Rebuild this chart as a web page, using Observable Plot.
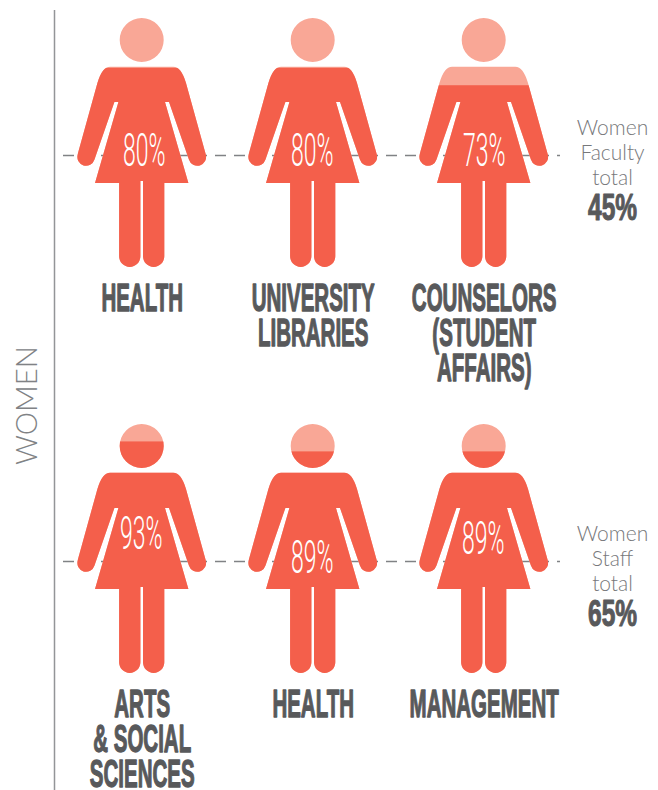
<!DOCTYPE html>
<html>
<head>
<meta charset="utf-8">
<style>html,body{margin:0;padding:0;background:#fff}svg{display:block}</style>
<script src="https://cdn.jsdelivr.net/npm/d3@7"></script>
<script src="https://cdn.jsdelivr.net/npm/@observablehq/plot@0.6"></script>
</head>
<body>
<script>
// Data
const rows = ["Faculty", "Staff"];
const columns = [0, 1, 2];
const categories = ["HEALTH", "UNIVERSITY\nLIBRARIES", "COUNSELORS\n(STUDENT\nAFFAIRS)",
                    "ARTS\n& SOCIAL\nSCIENCES", "HEALTH", "MANAGEMENT"];
const shares = [80, 80, 73, 93, 89, 89];
const rowTotals = [45, 65];
const dashedLevels = [45, 45];
const totalCaptions = ["Women\nFaculty\ntotal", "Women\nStaff\ntotal"];

// Layout: how far each percentage label sits from the dashed line and the centre line
const labelLift = [1.5, 1.5, 1.5, 11, 1.2, 8.8];
const labelShift = [2, -1, 0, -1, -1, -1];
const coral = "#f45f4b", pale = "#f9a796", ink = "#58595b", grey = "#808285";

// Silhouette, in pixels: u across from the centre line, py down from the top of the head
const figureHeight = 249;
const head = {u: 0, py: 22, r: 22};
const body = [
  ["M", 0, 48.7], ["L", 31.6, 48.7], ["Q", 39.5, 48.7, 44.3, 65], ["L", 64.1, 136.4],
  ["A", 8.8, 47.2, 141.5], ["L", 27.3, 84], ["L", 23.3, 84], ["L", 46.7, 165], ["L", 22.6, 165],
  ["L", 22.6, 238.3], ["A", 10.65, 1.3, 238.3], ["L", 1.3, 163], ["L", -1.3, 163], ["L", -1.3, 238.3],
  ["A", 10.65, -22.6, 238.3], ["L", -22.6, 165], ["L", -46.7, 165], ["L", -23.3, 84], ["L", -27.3, 84],
  ["L", -47.2, 141.5], ["A", 8.8, -64.1, 136.4], ["L", -44.3, 65], ["Q", -39.5, 48.7, -31.6, 48.7], ["Z"]
];

const table = shares.map((share, i) => ({
  share, label: categories[i], col: columns[i % 3], row: rows[Math.floor(i / 3)], i
}));
const rowTable = rows.map((row, i) => ({row, i}));

let clipCount = 0;
function silhouette(scales) {
  const X = u => scales.x(u);
  const Y = py => scales.y((figureHeight - py) / figureHeight * 100);
  let d = "";
  for (const s of body) {
    if (s[0] === "M" || s[0] === "L") d += `${s[0]}${X(s[1])} ${Y(s[2])} `;
    else if (s[0] === "Q") d += `Q${X(s[1])} ${Y(s[2])} ${X(s[3])} ${Y(s[4])} `;
    else if (s[0] === "A") d += `A${s[1]} ${s[1]} 0 0 1 ${X(s[2])} ${Y(s[3])} `;
    else d += "Z ";
  }
  const R = head.r;
  return d + `M${X(head.u) - R} ${Y(head.py)} a${R} ${R} 0 1 0 ${2 * R} 0 a${R} ${R} 0 1 0 ${-2 * R} 0 Z`;
}
function clipToFigure(index, scales, values, dimensions, context, next) {
  const g = next(index, scales, values, dimensions, context);
  const id = "figure-clip-" + (++clipCount);
  const sel = d3.select(g);
  sel.append("clipPath").attr("id", id).append("path").attr("d", silhouette(scales));
  sel.attr("clip-path", `url(#${id})`);
  return g;
}
const squeeze = k => (index, scales, values, dimensions, context, next) => {
  const g = next(index, scales, values, dimensions, context);
  d3.select(g).selectAll("text").attr("transform", function () {
    return (this.getAttribute("transform") || "") + ` scale(${k},1)`;
  });
  return g;
};

const condensed = "'Liberation Sans Narrow','Liberation Sans',sans-serif";
const light = "Lato,sans-serif";

const chart = Plot.plot({
  width: 658, height: 790,
  marginTop: 0, marginRight: 0, marginBottom: 0, marginLeft: 0,
  style: {background: "#fff", overflow: "visible"},
  x: {domain: [-85.5, 85.5], range: [0, 171], axis: null},
  y: {domain: [0, 100], range: [267, 18], axis: null},
  fx: {domain: columns, range: [56.2, 569.2], padding: 0, round: false, axis: null},
  fy: {domain: rows, range: [0, 812], padding: 0, round: false, axis: null},
  marks: [
    Plot.ruleX([-87.7], {x: d => d, y1: 103.2, y2: -210, fx: () => 0, fy: () => rows[0], stroke: "#939598", strokeWidth: 1.5}),
    Plot.text(["WOMEN"], {text: d => d, x: () => -114.7, y: () => -55.4, fx: () => 0, fy: () => rows[0],
      rotate: -90, fontFamily: light, fontWeight: 300, fontSize: 30, fill: grey, render: squeeze(0.98)}),
    Plot.ruleY(rowTable, {y: d => dashedLevels[d.i], x1: () => -78.7, x2: () => 418.3,
      fx: () => 0, fy: "row", stroke: grey, strokeWidth: 1.4, strokeDasharray: "11 8"}),
    Plot.rect(table, {x1: () => -85.5, x2: () => 85.5, y1: () => 0, y2: () => 100,
      fx: "col", fy: "row", fill: pale, render: clipToFigure}),
    Plot.rect(table, {x1: () => -85.5, x2: () => 85.5, y1: () => 0, y2: "share",
      fx: "col", fy: "row", fill: coral, render: clipToFigure}),
    Plot.text(table, {text: d => d.share + "%", x: d => labelShift[d.i],
      y: d => dashedLevels[rows.indexOf(d.row)] + labelLift[d.i],
      fx: "col", fy: "row", fill: "#fff",
      fontFamily: "Roboto,sans-serif", fontWeight: 300, fontSize: 46, render: squeeze(0.5)}),
    Plot.text(table, {text: "label", x: () => 0, y: () => 0, dy: 19, lineAnchor: "top", lineHeight: 0.92,
      fx: "col", fy: "row", fill: ink, stroke: ink, strokeWidth: 1.3,
      fontFamily: condensed, fontWeight: 700, fontSize: 38, render: squeeze(0.54)}),
    Plot.text(rowTable, {text: d => totalCaptions[d.i], x: () => 128.3, y: () => 46.2, lineHeight: 1.19,
      fx: () => 2, fy: "row", fill: "#77787b", fontFamily: light, fontWeight: 300, fontSize: 21}),
    Plot.text(rowTable, {text: d => rowTotals[d.i] + "%", x: () => 128.3, y: () => 23.8,
      fx: () => 2, fy: "row", fill: ink, stroke: ink, strokeWidth: 1.1,
      fontFamily: condensed, fontWeight: 700, fontSize: 36, render: squeeze(0.68)})
  ]
});
document.body.appendChild(chart);
</script>
</body>
</html>
